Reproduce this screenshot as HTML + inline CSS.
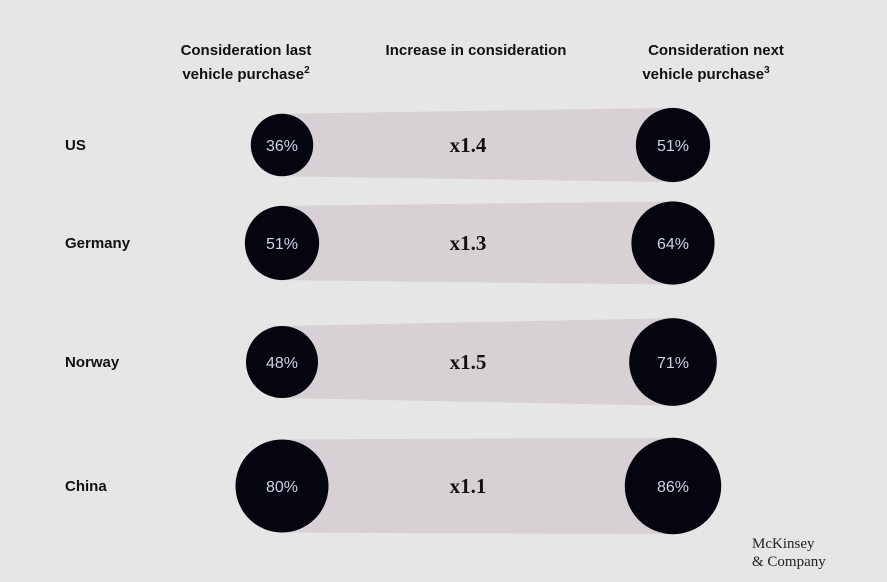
<!DOCTYPE html>
<html><head><meta charset="utf-8"><style>
body{margin:0;background:#e6e6e6;}
svg{display:block;font-family:"Liberation Sans",sans-serif;}
</style></head><body>
<svg id="chart" width="887" height="582" viewBox="0 0 887 582">
<rect width="887" height="582" fill="#e6e6e6"/>
<g font-weight="bold" font-size="15" fill="#111" text-anchor="middle">
<text x="246" y="55">Consideration last</text>
<text x="246" y="79">vehicle purchase<tspan font-size="10" dy="-6">2</tspan></text>
<text x="476" y="55">Increase in consideration</text>
<text x="716" y="55">Consideration next</text>
<text x="706" y="79">vehicle purchase<tspan font-size="10" dy="-6">3</tspan></text>
</g>
<g id="rows"></g>
<text x="752" y="548" font-family="Liberation Serif,serif" font-size="15" fill="#222">McKinsey</text>
<text x="752" y="566" font-family="Liberation Serif,serif" font-size="15" fill="#222">&amp; Company</text>
</svg>
<script>
const countries = ["US","Germany","Norway","China"];
const lastValues = [36,51,48,80];
const nextValues = [51,64,71,86];
const multipliers = ["x1.4","x1.3","x1.5","x1.1"];
const rowY = [145,243,362,486];
const NS="http://www.w3.org/2000/svg";
const g=document.getElementById('rows');
const leftX=282, rightX=673, midX=468;
function rad(v){return 5.2*Math.sqrt(v);}
function mk(tag,attrs){const e=document.createElementNS(NS,tag);for(const k in attrs)e.setAttribute(k,attrs[k]);g.appendChild(e);return e;}
countries.forEach((c,i)=>{
  const y=rowY[i], r1=rad(lastValues[i]), r2=rad(nextValues[i]);
  const band=mk('polygon',{points:`${leftX},${y-r1} ${rightX},${y-r2} ${rightX},${y+r2} ${leftX},${y+r1}`,fill:'#d7d1d5'});
  
  
  const lab=mk('text',{x:65,y:y+5,'font-size':15,'font-weight':'bold',fill:'#111'});
  lab.textContent=c;
  
  
  const c1=mk('circle',{cx:leftX,cy:y,r:r1,fill:'#05050f'});
  
  
  const c2=mk('circle',{cx:rightX,cy:y,r:r2,fill:'#05050f'});
  
  
  const t1=mk('text',{x:leftX,y:y+6,'font-size':16,fill:'#c9d5e8','text-anchor':'middle'});
  t1.textContent=lastValues[i]+'%';
  
  
  const t2=mk('text',{x:rightX,y:y+6,'font-size':16,fill:'#c9d5e8','text-anchor':'middle'});
  t2.textContent=nextValues[i]+'%';
  
  
  const m=mk('text',{x:midX,y:y+7,'font-size':21,'font-weight':'bold','font-family':'Liberation Serif,serif',fill:'#111','text-anchor':'middle'});
  m.textContent=multipliers[i];
  
  
});
</script>
</body></html>
